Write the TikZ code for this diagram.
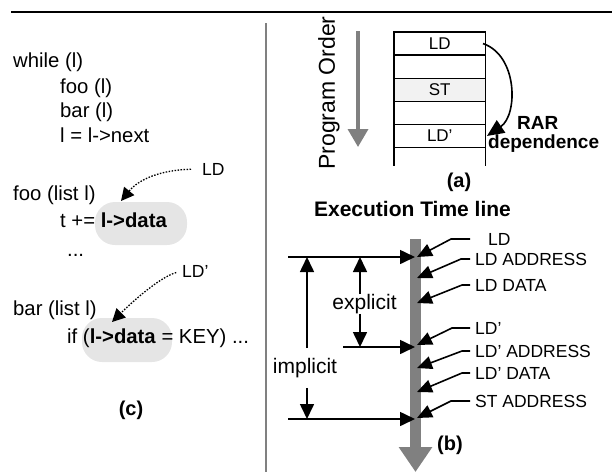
\documentclass[tikz,border=0pt]{standalone}
\usepackage{fontspec}
\setmainfont{Liberation Sans}
\usetikzlibrary{arrows.meta,positioning}
\tikzset{codeline/.style={anchor=base west,inner sep=0pt,font=\fontsize{20.3}{22}\selectfont},
evtag/.style={inner sep=0pt,font=\fontsize{17.5}{20}\selectfont},
sublbl/.style={anchor=base,inner sep=0pt,font=\bfseries\fontsize{20}{22}\selectfont},
slot/.style={draw,line width=1.3pt,minimum width=91.5pt,minimum height=23.1pt,inner sep=0pt,outer sep=0pt,font=\fontsize{17}{18}\selectfont},
blob/.style={fill=black!10,rounded corners=20pt,minimum width=92pt,minimum height=43pt,inner sep=0pt},
arr/.style={line width=1.6pt,-{Triangle[length=15pt,width=14pt]}},
dotlink/.style={line width=1.3pt,dash pattern=on 1.5pt off 1.5pt,-{Triangle[length=13pt,width=13pt]}},
leader/.style={line width=1.6pt,-{Triangle[length=15pt,width=13pt]}},
dimlbl/.style={inner sep=0pt,font=\fontsize{21}{22}\selectfont}}
\begin{document}
\begin{tikzpicture}[x=1pt,y=-1pt]
		\useasboundingbox (0,0) rectangle (612,472);
		\draw[line width=2.3pt] (11,12) -- (612,12);
		\draw[gray,line width=2pt] (266,23) -- (266,472);
		% (c)
		\node[blob] (bA) at (141,223.5) {};
		\node[blob,minimum width=90pt,minimum height=44pt] (bB) at (127,340) {};
		\node[codeline] (c1) at (13,67) {while (l)};
		\node[codeline] (c2) at (60,93) {foo (l)};
		\node[codeline] (c3) at (60,117) {bar (l)};
		\node[codeline] (c4) at (60,142) {l = l->next};
		\node[codeline] (c5) at (13,200) {foo (list l)};
		\node[codeline] (c6) at (60,227) {t += \textbf{l->data}};
		\node[codeline] (c7) at (67,256) {...};
		\node[codeline] (c8) at (13,315) {bar (list l)};
		\node[codeline] (c9) at (67,343) {if (\textbf{l->data} = KEY) ...};
		\node[sublbl] (cc) at (131,415) {(c)};
		\node[evtag,anchor=base west] (ldA) at (202,175) {LD};
		\node[evtag,anchor=base west] (ldB) at (182,277) {LD’};
		\coordinate (ldAt) at (121,201);
		\coordinate (ldBt) at (112,322);
		\draw[dotlink,shorten <=11pt] (ldA.west) .. controls +(-41,1) and +(18,-22) .. (ldAt);
		\draw[dotlink,shorten <=6pt] (ldB.west) .. controls +(-22,6) and +(20,-20) .. (ldBt);
		% (a)
		\coordinate (poTop) at (358,31);
		\coordinate (poEnd) at (358,147);
		\draw[gray,line width=3.5pt,-{Triangle[length=18pt,width=20pt]}] (poTop) -- (poEnd);
		\node[rotate=90,inner sep=0pt,font=\fontsize{23}{24}\selectfont] (po) at (329,93) {Program Order};
		\node[inner sep=0pt,outer sep=0pt] (r0) at (439.75,31.5) {};
		\foreach \t/\c[count=\i,evaluate=\i as\j using int(\i-1)] in {LD/white,/white,ST/black!5,/white,LD’/white}
		\node at(r\j.south)[anchor=north,slot,fill=\c](r\i){\t};
		\draw[line width=1.3pt] (r5.south west) -- ++(0,18) (r5.south east) -- ++(0,18);
		\draw[line width=1.6pt,-{Triangle[length=17pt,width=15pt]}] ([xshift=-2.5pt]r1.east) .. controls +(35,12) and +(31,-21) .. ([xshift=1.5pt]r5.east);
		\node[anchor=base west,inner sep=0pt,font=\bfseries\fontsize{19}{22}\selectfont] (rar) at (517,129) {RAR};
		\node[anchor=base west,inner sep=0pt,font=\bfseries\fontsize{19}{22}\selectfont] (dep) at (488,148) {dependence};
		\node[sublbl] (ca) at (459,187) {(a)};
		% (b)
		\node[anchor=base,inner sep=0pt,font=\bfseries\fontsize{21}{22}\selectfont] (etl) at (412.5,216.5) {Execution Time line};
		\coordinate (barTop) at (415.5,239);
		\coordinate (barEnd) at (415.5,472);
		\draw[gray,line width=11pt,-{Triangle[length=25pt,width=32pt]}] (barTop) -- (barEnd);
		\coordinate (tA) at (415,257);
		\coordinate (tB) at (415,347);
		\coordinate (tC) at (415,419);
		\coordinate (hA) at (288,257);
		\coordinate (hB) at (343,347);
		\coordinate (hC) at (288,419);
		\foreach \a in {A,B,C}
		\draw[arr] (h\a) -- (t\a);
		\node[dimlbl] (expl) at (364.5,304) {explicit};
		\node[dimlbl,inner ysep=10pt] (impl) at (305,368) {implicit};
		\coordinate (eTop) at (360,257);
		\coordinate (eBot) at (360,347);
		\coordinate (iTop) at (307,257);
		\coordinate (iBot) at (307,419);
		\draw[arr] (expl.north -| eTop) -- (eTop);
		\draw[arr] (expl.south -| eBot) -- (eBot);
		\draw[arr] (impl.north -| iTop) -- (iTop);
		\draw[arr] (impl.south -| iBot) -- (iBot);
		\foreach \t/\ly/\ty/\hx[count=\i] in {{\hspace*{13pt}LD}/239/257/451,LD ADDRESS/259/278/461,LD DATA/285/303/462,LD’/328/345/452,LD’ ADDRESS/351/368/462,LD’ DATA/373/392/462,ST ADDRESS/401/418/451}{
				\node[evtag,anchor=west,inner xsep=5pt] (m\i) at (470,\ly) {\t};
				\coordinate (p\i) at (417,\ty);
				\draw[leader] (m\i.west) -- (\hx,\ly) -- (p\i);
			}
		\node[sublbl] (cb) at (450,450) {(b)};
	\end{tikzpicture}
\end{document}
